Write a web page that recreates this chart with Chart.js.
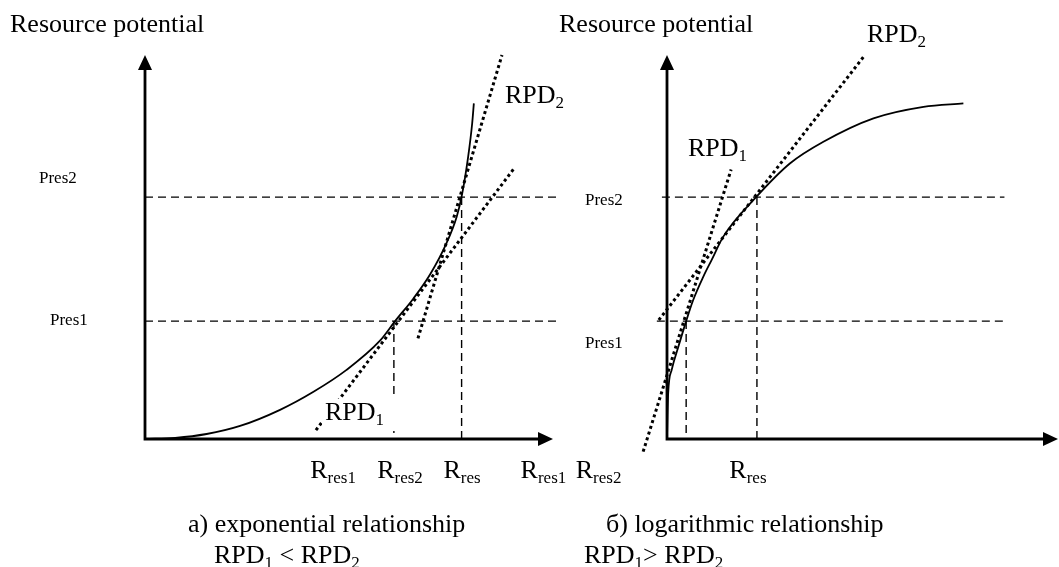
<!DOCTYPE html>
<html>
<head>
<meta charset="utf-8">
<script src="https://cdn.jsdelivr.net/npm/chart.js@4.4.1/dist/chart.umd.min.js"></script>
<style>
  html, body { margin: 0; padding: 0; background: #fff; }
  #wrap { position: relative; width: 1059px; height: 567px; }
  #wrap canvas { position: absolute; left: 0; top: 0; }
</style>
</head>
<body>
<div id="wrap">
  <canvas id="expChart" width="1059" height="567"></canvas>
  <canvas id="logChart" width="1059" height="567"></canvas>
</div>
<script>
// a) exponential relationship, units: axis runs 0..10 both ways
const expCurveX = [0, 0.74, 1.51, 2.33, 3.31, 4.13, 4.94, 5.76, 6.13, 6.58, 6.99, 7.39, 7.64, 7.76, 7.92, 8.02, 8.06];
const expCurveY = [0, 0.03, 0.13, 0.34, 0.76, 1.23, 1.80, 2.56, 3.07, 3.66, 4.29, 5.10, 5.79, 6.31, 7.35, 8.23, 8.74];
const expRpd1X = [4.19, 9.07];
const expRpd1Y = [0.23, 7.08];
const expRpd2X = [6.69, 8.75];
const expRpd2Y = [2.62, 10.0];
const expLevelX = [0, 10.1];
const expDropX = [6.10, 7.76];
const expTickX = [4.61, 6.25, 7.77];
const expTickSub = ["res1", "res2", "res"];

// б) logarithmic relationship
const logCurveX = [0, 0.03, 0.12, 0.29, 0.49, 0.67, 0.93, 1.14, 1.44, 2.29, 3.15, 4.00, 5.28, 6.56, 7.58];
const logCurveY = [0.05, 1.19, 1.80, 2.40, 3.07, 3.62, 4.23, 4.66, 5.27, 6.31, 7.18, 7.74, 8.35, 8.65, 8.74];
const logRpd1X = [-0.61, 1.64];
const logRpd1Y = [-0.33, 7.02];
const logRpd2X = [-0.21, 5.04];
const logRpd2Y = [3.10, 9.97];
const logLevel1X = [-0.26, 8.63];
const logLevel2X = [-0.13, 8.63];
const logDropX = [0.49, 2.30];
const logTickX = [-3.16, -1.75, 2.07];
const logTickSub = ["res1", "res2", "res"];

// shared levels
const presLevels = [3.07, 6.30];   // Pres1, Pres2

const SERIF = '"Liberation Serif", "Times New Roman", serif';
const BIG = 26, SMALL = 17;

function pts(xs, ys) {
  return xs.map((x, i) => ({ x: x, y: ys[i] }));
}

function curve(xs, ys) {
  return { data: pts(xs, ys), borderColor: "#000", borderWidth: 1.8, cubicInterpolationMode: "monotone" };
}
function dotted(xs, ys) {
  return { data: pts(xs, ys), borderColor: "#000", borderWidth: 3, borderDash: [3, 3] };
}
function dashed(xs, ys) {
  return { data: pts(xs, ys), borderColor: "#000", borderWidth: 1.4, borderDash: [8, 5] };
}

// draws pieces like [["RPD",0],["1",1]] ; returns width
function drawParts(ctx, x, y, parts, align) {
  let total = 0;
  const ws = parts.map(p => {
    ctx.font = (p[1] ? SMALL : BIG) + "px " + SERIF;
    const w = ctx.measureText(p[0]).width;
    total += w;
    return w;
  });
  let cx = align === "center" ? x - total / 2 : x;
  parts.forEach((p, i) => {
    ctx.font = (p[1] ? SMALL : BIG) + "px " + SERIF;
    ctx.fillText(p[0], cx, p[1] ? y + 5 : y);
    cx += ws[i];
  });
  return total;
}

function drawAxes(chart) {
  const { ctx, chartArea: a } = chart;
  ctx.save();
  ctx.strokeStyle = "#000";
  ctx.fillStyle = "#000";
  ctx.lineWidth = 2.8;
  ctx.beginPath();
  ctx.moveTo(a.left, a.top + 12);
  ctx.lineTo(a.left, a.bottom);
  ctx.lineTo(a.right - 12, a.bottom);
  ctx.stroke();
  ctx.beginPath();
  ctx.moveTo(a.left, a.top);
  ctx.lineTo(a.left - 7, a.top + 15);
  ctx.lineTo(a.left + 7, a.top + 15);
  ctx.closePath();
  ctx.fill();
  ctx.beginPath();
  ctx.moveTo(a.right, a.bottom);
  ctx.lineTo(a.right - 15, a.bottom - 7);
  ctx.lineTo(a.right - 15, a.bottom + 7);
  ctx.closePath();
  ctx.fill();
  ctx.restore();
}

function drawTicks(chart, xs, subs) {
  const ctx = chart.ctx;
  const sx = chart.scales.x;
  xs.forEach((v, i) => {
    drawParts(ctx, sx.getPixelForValue(v), 478, [["R", 0], [subs[i], 1]], "center");
  });
}

const expText = {
  id: "expText",
  afterDatasetsDraw(chart) {
    const ctx = chart.ctx;
    drawAxes(chart);
    ctx.save();
    ctx.fillStyle = "#000";
    ctx.textBaseline = "alphabetic";
    drawParts(ctx, 10, 32, [["Resource potential", 0]]);
    ctx.font = SMALL + "px " + SERIF;
    ctx.fillText("Pres2", 39, 183);
    ctx.fillText("Pres1", 50, 325);
    drawParts(ctx, 505, 103, [["RPD", 0], ["2", 1]]);
    // label box hides the dotted line under RPD1
    ctx.fillStyle = "#fff";
    ctx.fillRect(322, 399, 74, 32);
    ctx.fillStyle = "#000";
    drawParts(ctx, 325, 420, [["RPD", 0], ["1", 1]]);
    drawTicks(chart, expTickX, expTickSub);
    drawParts(ctx, 188, 532, [["a) exponential relationship", 0]]);
    drawParts(ctx, 214, 563, [["RPD", 0], ["1", 1], [" < RPD", 0], ["2", 1]]);
    ctx.restore();
  }
};

const logText = {
  id: "logText",
  afterDatasetsDraw(chart) {
    const ctx = chart.ctx;
    drawAxes(chart);
    ctx.save();
    ctx.fillStyle = "#000";
    drawParts(ctx, 559, 32, [["Resource potential", 0]]);
    ctx.font = SMALL + "px " + SERIF;
    ctx.fillText("Pres2", 585, 205);
    ctx.fillText("Pres1", 585, 348);
    drawParts(ctx, 688, 156, [["RPD", 0], ["1", 1]]);
    drawParts(ctx, 867, 42, [["RPD", 0], ["2", 1]]);
    drawTicks(chart, logTickX, logTickSub);
    drawParts(ctx, 606, 532, [["б) logarithmic relationship", 0]]);
    drawParts(ctx, 584, 563, [["RPD", 0], ["1", 1], ["> RPD", 0], ["2", 1]]);
    ctx.restore();
  }
};

function baseOptions(padding) {
  return {
    responsive: false,
    animation: false,
    devicePixelRatio: 1,
    layout: { padding: padding },
    elements: { point: { radius: 0, hoverRadius: 0 }, line: { borderCapStyle: "butt" } },
    plugins: { legend: { display: false }, tooltip: { enabled: false } },
    events: [],
    scales: {
      x: { type: "linear", display: false, min: 0, max: 10 },
      y: { type: "linear", display: false, min: 0, max: 10 }
    }
  };
}

function withDefaults(ds) {
  return ds.map(d => Object.assign({ showLine: true, fill: false, clip: false, pointRadius: 0 }, d));
}

new Chart(document.getElementById("expChart"), {
  type: "scatter",
  data: {
    datasets: withDefaults([
      curve(expCurveX, expCurveY),
      dotted(expRpd1X, expRpd1Y),
      dotted(expRpd2X, expRpd2Y),
      dashed(expLevelX, [presLevels[0], presLevels[0]]),
      dashed(expLevelX, [presLevels[1], presLevels[1]]),
      dashed([expDropX[0], expDropX[0]], [presLevels[0], 0]),
      dashed([expDropX[1], expDropX[1]], [presLevels[1], 0])
    ])
  },
  options: baseOptions({ left: 145, right: 506, top: 55, bottom: 128 }),
  plugins: [expText]
});

new Chart(document.getElementById("logChart"), {
  type: "scatter",
  data: {
    datasets: withDefaults([
      curve(logCurveX, logCurveY),
      dotted(logRpd1X, logRpd1Y),
      dotted(logRpd2X, logRpd2Y),
      dashed(logLevel1X, [presLevels[0], presLevels[0]]),
      dashed(logLevel2X, [presLevels[1], presLevels[1]]),
      dashed([logDropX[0], logDropX[0]], [presLevels[0], 0]),
      dashed([logDropX[1], logDropX[1]], [presLevels[1], 0])
    ])
  },
  options: baseOptions({ left: 667, right: 1, top: 55, bottom: 128 }),
  plugins: [logText]
});
</script>
</body>
</html>
